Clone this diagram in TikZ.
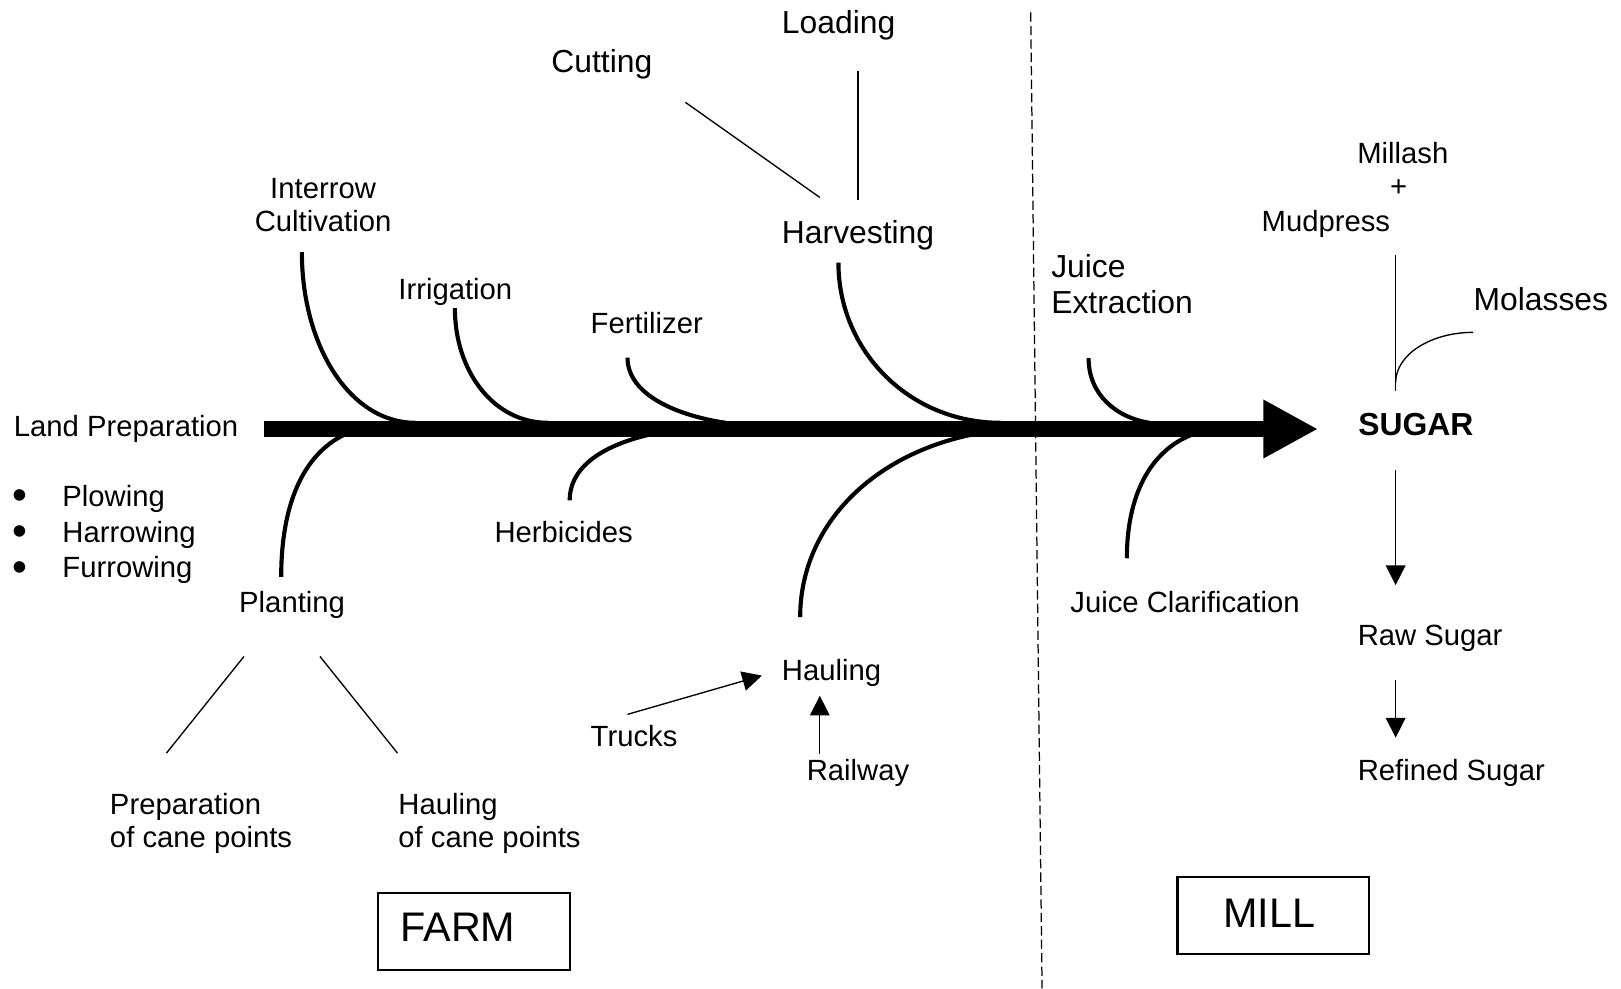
\documentclass[tikz,border=0pt]{standalone}
\usepackage{fontspec}
\setmainfont{Liberation Sans}
\usetikzlibrary{arrows.meta}
\newcommand{\bigbul}{\makebox[23pt][l]{\hspace*{-1.2pt}\smash{\raisebox{-1.6pt}{\scalebox{1.45}{\textbullet}}}}}
\begin{document}
\begin{tikzpicture}[x=0.5pt,y=-0.5pt,
  lbl/.style={anchor=base west, inner sep=0pt, font=\fontsize{14.15}{17}\selectfont},
  big/.style={anchor=base west, inner sep=0pt, font=\fontsize{15.4}{18}\selectfont},
  spine/.style={line width=7.75pt, -{Triangle[length=26.5pt,width=26.5pt]}},
  bone/.style={line width=2pt},
  thinline/.style={line width=0.65pt},
  tarrow/.style={line width=0.65pt, -{Triangle[length=9.5pt,width=9.5pt]}},
  frame/.style={draw, line width=1pt, minimum width=92.5pt, minimum height=37pt, inner sep=0pt},
  boxtext/.style={anchor=base west, inner sep=0pt, font=\fontsize{20}{24}\selectfont},
  divider/.style={line width=0.6pt, dash pattern=on 4.5pt off 2pt}
]
\useasboundingbox (0,0) rectangle (1568,956);

% divider
\coordinate (dtop) at (997,12);
\coordinate (dbot) at (1008,956);
\draw[divider] (dtop) -- (dbot);

% spine
\coordinate (sstart) at (255,415);
\coordinate (stip) at (1275,415);
\draw[spine] (sstart) -- (stip);

% labels
\node[lbl] (land) at (13,422) {Land Preparation};
\node[lbl] (plow) at (14,490) {\bigbul Plowing};
\node[lbl] (harr) at (14,524.5) {\bigbul Harrowing};
\node[lbl] (furr) at (14,559) {\bigbul Furrowing};

\node[lbl, anchor=base] (inter1) at (312.5,192) {Interrow};
\node[lbl, anchor=base] (inter2) at (312.5,224) {Cultivation};
\node[lbl] (irr) at (385,290) {Irrigation};
\node[lbl] (fert) at (571,323) {Fertilizer};
\node[big] (harv) at (756,236) {Harvesting};
\node[big] (cut) at (533,70) {Cutting};
\node[big] (load) at (756,32) {Loading};

\node[lbl] (plant) at (231,592) {Planting};
\node[lbl] (herb) at (478,525) {Herbicides};
\node[lbl] (haul) at (756,658) {Hauling};
\node[lbl] (truck) at (571,722) {Trucks};
\node[lbl] (rail) at (780,755) {Railway};
\node[lbl] (prep1) at (106,787.5) {Preparation};
\node[lbl] (prep2) at (106,819.5) {of cane points};
\node[lbl] (hcp1) at (385,787.5) {Hauling};
\node[lbl] (hcp2) at (385,819.5) {of cane points};

\node[big] (je1) at (1016.5,268) {Juice};
\node[big] (je2) at (1016.5,303) {Extraction};
\node[lbl] (jc) at (1035,592) {Juice Clarification};

\node[lbl] (millash) at (1312.5,158.5) {Millash};
\node[lbl, anchor=center] (plus) at (1353,182) {+};
\node[lbl] (mud) at (1220,223.5) {Mudpress};
\node[big] (mol) at (1425,300) {Molasses};
\node[big, font=\fontsize{15.4}{18}\selectfont\bfseries] (sugar) at (1313.5,421) {SUGAR};
\node[lbl] (raw) at (1313,624) {Raw Sugar};
\node[lbl] (ref) at (1313,755) {Refined Sugar};

% boxes
\node[frame] (farmbox) at (458.5,901) {};
\node[boxtext] (farm) at (387,911) {FARM};
\node[frame] (millbox) at (1231.5,885.5) {};
\node[boxtext] (mill) at (1183,897) {MILL};

% upper bones
\coordinate (b1) at (292,244);  \coordinate (b1e) at (402,409);
\coordinate (b2) at (440,298);  \coordinate (b2e) at (530,409);
\coordinate (b3) at (607,346);  \coordinate (b3e) at (702,409);
\coordinate (b4) at (811,254);  \coordinate (b4e) at (968,409);
\coordinate (b5) at (1053,346.5); \coordinate (b5e) at (1112,409);
\draw[bone] (b1) .. controls (292,334) and (338,409) .. (b1e);
\draw[bone] (b2) .. controls (440,360) and (478,409) .. (b2e);
\draw[bone] (b3) .. controls (607,382) and (655,402) .. (b3e);
\draw[bone] (b4) .. controls (811,340) and (880,409) .. (b4e);
\draw[bone] (b5) .. controls (1053,382) and (1080,404) .. (b5e);

% lower bones
\coordinate (c1) at (334,420);  \coordinate (c1e) at (272,558);
\coordinate (c2) at (630,420);  \coordinate (c2e) at (551,484);
\coordinate (c3) at (942,420);  \coordinate (c3e) at (774,597);
\coordinate (c4) at (1154,420); \coordinate (c4e) at (1090,540);
\draw[bone] (c1) .. controls (292,440) and (272,490) .. (c1e);
\draw[bone] (c2) .. controls (577,432) and (551,455) .. (c2e);
\draw[bone] (c3) .. controls (842,440) and (774,510) .. (c3e);
\draw[bone] (c4) .. controls (1112,436) and (1090,480) .. (c4e);

% thin lines
\coordinate (cuta) at (663,99);   \coordinate (cutb) at (793,191);
\coordinate (loada) at (830,69);  \coordinate (loadb) at (830,193);
\draw[thinline] (cuta) -- (cutb);
\draw[thinline] (loada) -- (loadb);
\coordinate (pl1a) at (236,635); \coordinate (pl1b) at (161,728.5);
\coordinate (pl2a) at (309.5,635); \coordinate (pl2b) at (384.5,728.5);
\draw[thinline] (pl1a) -- (pl1b);
\draw[thinline] (pl2a) -- (pl2b);

% mill side
\coordinate (mva) at (1350,247); \coordinate (mvb) at (1350,378);
\draw[thinline] (mva) -- (mvb);
\coordinate (mola) at (1425,321.5); \coordinate (molb) at (1350,370);
\draw[thinline] (mola) .. controls (1384,321.5) and (1350,343) .. (molb);
\coordinate (sa) at (1350,455); \coordinate (sb) at (1350,566);
\draw[tarrow] (sa) -- (sb);
\coordinate (ra) at (1350,658); \coordinate (rb) at (1350,713.5);
\draw[tarrow] (ra) -- (rb);

% hauling arrows
\coordinate (ta) at (607,691); \coordinate (tb) at (737,653.5);
\draw[tarrow] (ta) -- (tb);
\coordinate (rwa) at (793,729); \coordinate (rwb) at (793,673);
\draw[tarrow] (rwa) -- (rwb);
\end{tikzpicture}
\end{document}
